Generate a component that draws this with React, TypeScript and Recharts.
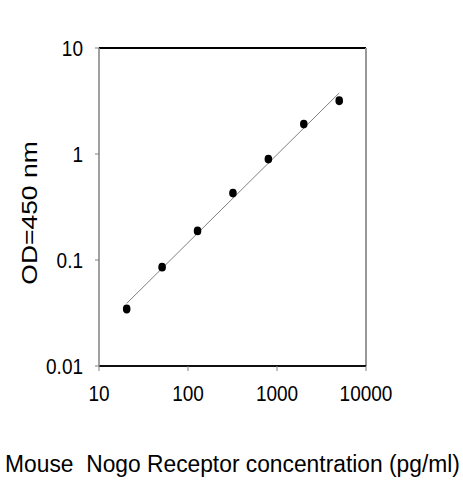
import React from "react";
import { ComposedChart, XAxis, YAxis, Scatter, Line, ReferenceLine } from "recharts";

// Standard curve: concentration (pg/ml) vs OD 450 nm
const concentrations = [20.48, 51.2, 128, 320, 800, 2000, 5000];
const odValues = [0.0345, 0.0855, 0.188, 0.428, 0.895, 1.915, 3.18];

// Fitted line endpoints
const fitX = [20.48, 5000];
const fitY = [0.039, 3.76];

const xTicks = [10, 100, 1000, 10000];
const yTicks = [0.01, 0.1, 1, 10];

const xTitle = "Mouse\u00a0 Nogo Receptor concentration (pg/ml)";
const yTitle = "OD=450 nm";

const pointData = concentrations.map((x, i) => ({ x, y: odValues[i] }));
const fitData = fitX.map((x, i) => ({ x, y: fitY[i] }));

const FONT = "'Liberation Sans', Arial, Helvetica, sans-serif";

const XTick = (props: any) => {
  const { x, y, payload } = props;
  return (
    <text
      transform={`translate(${x},${y + 28}) scale(1,1.18)`}
      textAnchor="middle"
      fontSize={19}
      fontFamily={FONT}
      fill="#000"
    >
      {String(payload.value)}
    </text>
  );
};

const YTick = (props: any) => {
  const { x, y, payload } = props;
  return (
    <text
      transform={`translate(${x - 10},${y + 8}) scale(1,1.18)`}
      textAnchor="end"
      fontSize={19}
      fontFamily={FONT}
      fill="#000"
    >
      {String(payload.value)}
    </text>
  );
};

const Dot = (props: any) => {
  const { cx, cy } = props;
  return <ellipse cx={cx} cy={cy} rx={3.8} ry={4.4} fill="#000" />;
};

const XTitle = (props: any) => {
  const { viewBox } = props;
  const cx = 232.5;
  const by = viewBox.y + 105.5;
  return (
    <text
      transform={`translate(${cx},${by}) scale(1,1.06)`}
      textAnchor="middle"
      fontSize={22.8}
      fontFamily={FONT}
      fill="#000"
    >
      {xTitle}
    </text>
  );
};

const YTitle = (props: any) => {
  const { viewBox } = props;
  const cy = viewBox.y + viewBox.height / 2 + 6;
  return (
    <text
      transform={`translate(37,${cy}) rotate(-90) scale(1.16,1)`}
      textAnchor="middle"
      fontSize={22.8}
      fontFamily={FONT}
      fill="#000"
    >
      {yTitle}
    </text>
  );
};

export default function App() {
  return (
    <div style={{ position: "absolute", left: 0, top: 0, width: 463, height: 480, background: "#fff" }}>
      <ComposedChart
        width={463}
        height={480}
        margin={{ top: 48, right: 97, bottom: 84, left: 0 }}
      >
        <XAxis
          xAxisId="bottom"
          dataKey="x"
          type="number"
          scale="log"
          domain={[10, 10000]}
          ticks={xTicks}
          allowDataOverflow
          height={30}
          tickSize={5}
          stroke="#000"
          axisLine={{ stroke: "#000", strokeWidth: 1.5 }}
          tickLine={{ stroke: "#808080", strokeWidth: 1 }}
          tick={<XTick />}
          interval={0}
          label={<XTitle />}
        />
        <YAxis
          yAxisId="left"
          dataKey="y"
          type="number"
          scale="log"
          domain={[0.01, 10]}
          ticks={yTicks}
          allowDataOverflow
          width={99}
          tickSize={4}
          stroke="#808080"
          axisLine={{ stroke: "#808080", strokeWidth: 1.5 }}
          tickLine={{ stroke: "#808080", strokeWidth: 1 }}
          tick={<YTick />}
          interval={0}
          label={<YTitle />}
        />
        <ReferenceLine
          xAxisId="bottom"
          yAxisId="left"
          y={10}
          stroke="#000"
          strokeWidth={2}
          ifOverflow="visible"
        />
        <ReferenceLine
          xAxisId="bottom"
          yAxisId="left"
          x={10000}
          stroke="#999"
          strokeWidth={2}
          ifOverflow="visible"
        />
        <ReferenceLine
          xAxisId="bottom"
          yAxisId="left"
          y={0.01}
          stroke="#000"
          strokeWidth={1.5}
          ifOverflow="visible"
        />
        <Line
          xAxisId="bottom"
          yAxisId="left"
          data={fitData}
          dataKey="y"
          type="linear"
          stroke="#808080"
          strokeWidth={1}
          dot={false}
          activeDot={false}
          isAnimationActive={false}
        />
        <Scatter
          xAxisId="bottom"
          yAxisId="left"
          data={pointData}
          dataKey="y"
          fill="#000"
          shape={<Dot />}
          isAnimationActive={false}
        />
      </ComposedChart>
    </div>
  );
}
